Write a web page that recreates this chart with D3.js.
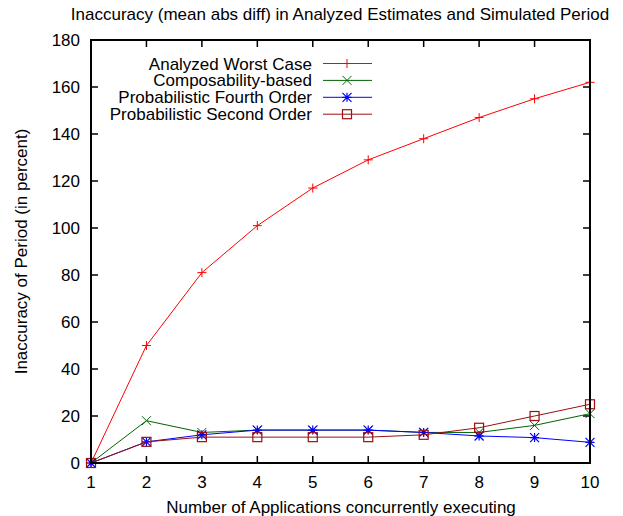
<!DOCTYPE html>
<html><head><meta charset="utf-8">
<script src="https://cdn.jsdelivr.net/npm/d3@7"></script>
<style>body{margin:0;background:#fff}svg{display:block}text{font-family:"Liberation Sans",Arial,sans-serif;fill:#000}</style>
</head><body>
<script>
const categories = [1,2,3,4,5,6,7,8,9,10];
const worstCase = [0,50,81,101,117,129,138,147,155,162];
const composability = [0,18,13,14,14,14,13,13,16,21];
const fourthOrder = [0,9,12,14,14,14,13,11.5,10.8,8.8];
const secondOrder = [0,9,11,11,11,11,12,15,20,25];
const yTicks = [0,20,40,60,80,100,120,140,160,180];
const seriesNames = ["Analyzed Worst Case","Composability-based","Probabilistic Fourth Order","Probabilistic Second Order"];

const W=623,H=516;
const m={l:91,r:590,t:40,b:463};
const svg=d3.select("body").append("svg").attr("width",W).attr("height",H);
const x=d3.scaleLinear().domain([1,10]).range([m.l,m.r]);
const y=d3.scaleLinear().domain([0,180]).range([m.b,m.t]);

const series=[
 {name:seriesNames[0],vals:worstCase,color:"#ff0000",sym:"plus"},
 {name:seriesNames[1],vals:composability,color:"#006400",sym:"cross"},
 {name:seriesNames[2],vals:fourthOrder,color:"#0000ff",sym:"star"},
 {name:seriesNames[3],vals:secondOrder,color:"#9b1010",sym:"square"}
];

function marker(g,sym,cx,cy,color){
  const s=4.5;
  if(sym==="plus"){
    g.append("path").attr("d",`M${cx-s},${cy}H${cx+s}M${cx},${cy-s}V${cy+s}`).attr("stroke",color).attr("stroke-width",1).attr("fill","none");
  } else if(sym==="cross"){
    g.append("path").attr("d",`M${cx-s},${cy-s}L${cx+s},${cy+s}M${cx-s},${cy+s}L${cx+s},${cy-s}`).attr("stroke",color).attr("stroke-width",1).attr("fill","none");
  } else if(sym==="star"){
    g.append("path").attr("d",`M${cx-s},${cy}H${cx+s}M${cx},${cy-s}V${cy+s}M${cx-s},${cy-s}L${cx+s},${cy+s}M${cx-s},${cy+s}L${cx+s},${cy-s}`).attr("stroke",color).attr("stroke-width",1.2).attr("fill","none");
  } else {
    g.append("rect").attr("x",cx-s).attr("y",cy-s).attr("width",2*s).attr("height",2*s).attr("stroke",color).attr("stroke-width",1.2).attr("fill","none");
  }
}

// ticks (mirrored, inward)
const tg=svg.append("g").attr("stroke","#000").attr("stroke-width",1.5);
yTicks.forEach(v=>{
  tg.append("line").attr("x1",m.l).attr("x2",m.l+7).attr("y1",y(v)).attr("y2",y(v));
  tg.append("line").attr("x1",m.r).attr("x2",m.r-7).attr("y1",y(v)).attr("y2",y(v));
});
categories.forEach(v=>{
  tg.append("line").attr("x1",x(v)).attr("x2",x(v)).attr("y1",m.b).attr("y2",m.b-7);
  tg.append("line").attr("x1",x(v)).attr("x2",x(v)).attr("y1",m.t).attr("y2",m.t+7);
});

// tick labels
svg.append("g").selectAll("text").data(yTicks).join("text")
 .attr("x",m.l-11).attr("y",d=>y(d)+6).attr("text-anchor","end").attr("font-size",17).text(d=>d);
svg.append("g").selectAll("text").data(categories).join("text")
 .attr("x",d=>x(d)).attr("y",m.b+25).attr("text-anchor","middle").attr("font-size",17).text(d=>d);

// lines
const line=d3.line().x((d,i)=>x(categories[i])).y(d=>y(d));
series.forEach(s=>{
  svg.append("path").attr("d",line(s.vals)).attr("stroke",s.color).attr("stroke-width",1).attr("fill","none");
  const g=svg.append("g");
  s.vals.forEach((v,i)=>marker(g,s.sym,x(categories[i]),y(v),s.color));
});

// legend
series.forEach((s,i)=>{
  const ly=63.5+i*16.9;
  svg.append("text").attr("x",312).attr("y",ly+6).attr("text-anchor","end").attr("font-size",17).text(s.name);
  svg.append("line").attr("x1",323).attr("x2",372).attr("y1",ly).attr("y2",ly).attr("stroke",s.color).attr("stroke-width",1);
  marker(svg.append("g"),s.sym,347,ly,s.color);
});

// frame
svg.append("rect").attr("x",m.l).attr("y",m.t).attr("width",m.r-m.l).attr("height",m.b-m.t)
 .attr("fill","none").attr("stroke","#000").attr("stroke-width",2);

// titles
svg.append("text").attr("x",340).attr("y",20).attr("text-anchor","middle").attr("font-size",17).text("Inaccuracy (mean abs diff) in Analyzed Estimates and Simulated Period");
svg.append("text").attr("x",341).attr("y",513).attr("text-anchor","middle").attr("font-size",17).text("Number of Applications concurrently executing");
svg.append("text").attr("transform",`translate(27,${(m.t+m.b)/2}) rotate(-90)`).attr("text-anchor","middle").attr("font-size",17).text("Inaccuracy of Period (in percent)");
</script>
</body></html>
